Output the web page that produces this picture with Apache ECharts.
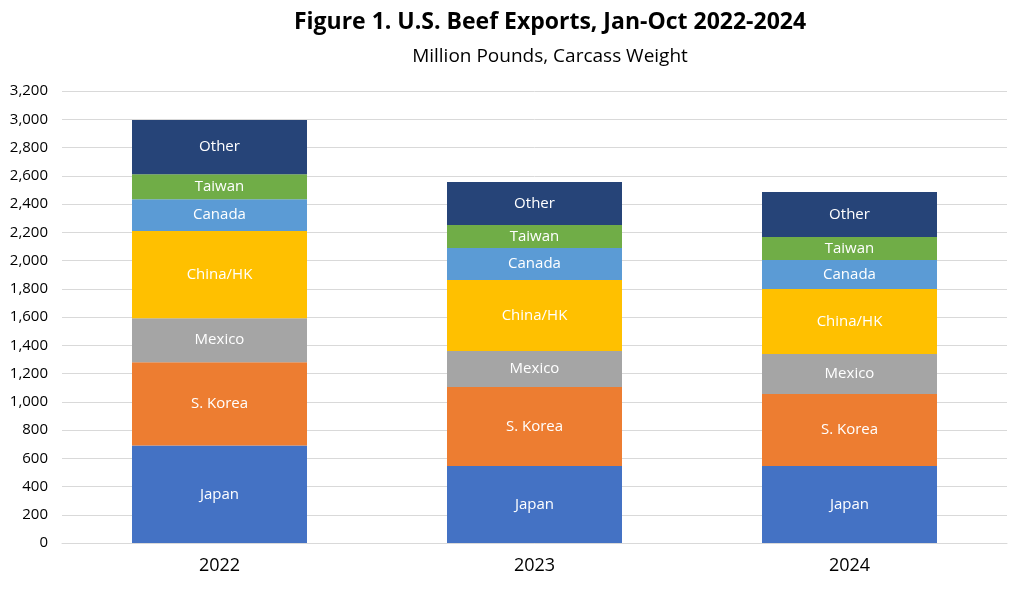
<!DOCTYPE html>
<html><head><meta charset="utf-8">
<script src="https://cdn.jsdelivr.net/npm/echarts@6/dist/echarts.min.js"></script>
<style>html,body{margin:0;padding:0;background:#fff}#c{width:1024px;height:590px}</style>
</head><body><div id="c"></div>
<script>
const years = ['2022','2023','2024'];
const japan = [690, 545, 545];
const korea = [590, 559, 510];
const mexico = [312, 255, 283];
const china = [616, 503, 460];
const canada = [226, 226, 206];
const taiwan = [177, 163, 162];
const other = [384, 305, 319];
const yTicks = {min:0, max:3200, interval:200};

const seriesDefs = [
  ['Japan', japan, '#4472C4'],
  ['S. Korea', korea, '#ED7D31'],
  ['Mexico', mexico, '#A5A5A5'],
  ['China/HK', china, '#FFC000'],
  ['Canada', canada, '#5B9BD5'],
  ['Taiwan', taiwan, '#70AD47'],
  ['Other', other, '#264478']
];
const font = '"Open Sans", "Liberation Sans", sans-serif';
const chart = echarts.init(document.getElementById('c'));
chart.setOption({
  animation:false,
  textStyle:{fontFamily:font},
  title:[
    {text:'Figure 1. U.S. Beef Exports, Jan-Oct 2022-2024', left:545, top:6, textAlign:'center',
     textStyle:{fontSize:23, fontWeight:'bold', color:'#000', fontFamily:font}},
    {text:'Million Pounds, Carcass Weight', left:545, top:42, textAlign:'center',
     textStyle:{fontSize:19, fontWeight:'normal', color:'#000', fontFamily:font}}
  ],
  grid:{left:62, right:17, top:91, bottom:47},
  xAxis:{type:'category', data:years,
    axisLine:{lineStyle:{color:'#d9d9d9'}}, axisTick:{show:false},
    axisLabel:{color:'#000', fontSize:18, margin:14}},
  yAxis:{type:'value', min:yTicks.min, max:yTicks.max, interval:yTicks.interval,
    axisLine:{show:false}, axisTick:{show:false},
    splitLine:{lineStyle:{color:'#d9d9d9'}},
    axisLabel:{color:'#000', fontSize:15, margin:14}},
  series: seriesDefs.map(([n,d,c]) => ({
    name:n, type:'bar', stack:'s', data:d, barWidth:175,
    itemStyle:{color:c},
    label:{show:true, position:'inside', formatter:n, color:'#fff', fontSize:15}
  }))
});
</script></body></html>
